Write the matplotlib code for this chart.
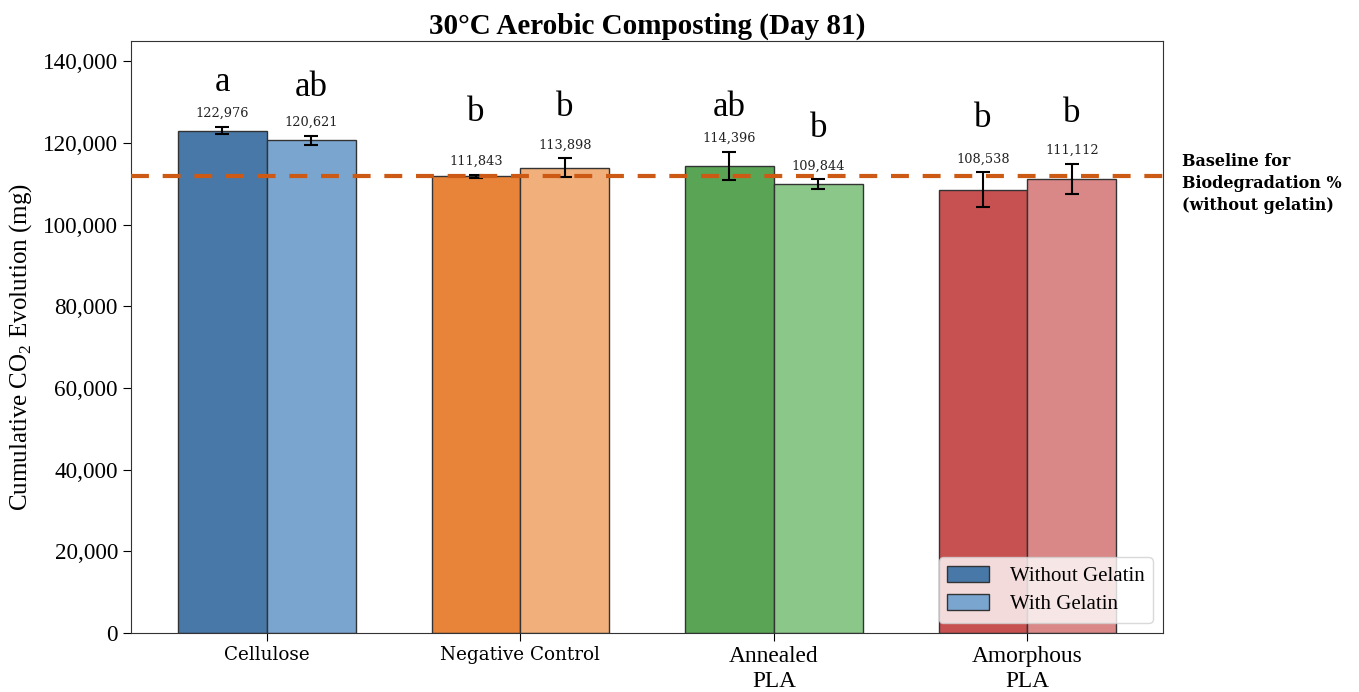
import numpy as np
import matplotlib
matplotlib.use("Agg")
import matplotlib.pyplot as plt
from matplotlib.ticker import FuncFormatter

plt.rcParams['font.family'] = ['Liberation Serif', 'DejaVu Serif']
plt.rcParams['mathtext.fontset'] = 'custom'
plt.rcParams['mathtext.rm'] = 'Liberation Serif'

# Treatments and measurements (cumulative CO2, mg)
categories = ["Cellulose", "Negative Control", "Annealed\nPLA", "Amorphous\nPLA"]
without_gelatin = [122976, 111843, 114396, 108538]
with_gelatin = [120621, 113898, 109844, 111112]
without_err = [900, 300, 3430, 4250]
with_err = [1150, 2330, 1230, 3720]
letters_without = ["a", "b", "ab", "b"]
letters_with = ["ab", "b", "b", "b"]
baseline_value = 111843

# Letter heights above each bar (data units)
letter_y_without = [132650, 125300, 126600, 123830]
letter_y_with = [131430, 126520, 121370, 125050]

colors_without = ["#4878a8", "#e8843a", "#5aa555", "#c75050"]
colors_with = ["#7aa5cf", "#f1b07b", "#8bc789", "#d98787"]

fig, ax = plt.subplots(figsize=(13.59, 6.92), dpi=100)
fig.subplots_adjust(left=0.0965, right=0.8558, top=0.941, bottom=0.085)

x = np.arange(len(categories))
w = 0.35

ax.bar(x - w / 2, without_gelatin, w, color=colors_without,
       edgecolor="#333333", linewidth=1.0, label="Without Gelatin", zorder=2)
ax.bar(x + w / 2, with_gelatin, w, color=colors_with,
       edgecolor="#333333", linewidth=1.0, label="With Gelatin", zorder=2)
ax.errorbar(x - w / 2, without_gelatin, yerr=without_err, fmt="none",
            ecolor="black", capsize=5, elinewidth=1.5, capthick=1.5, zorder=3)
ax.errorbar(x + w / 2, with_gelatin, yerr=with_err, fmt="none",
            ecolor="black", capsize=5, elinewidth=1.5, capthick=1.5, zorder=3)

ax.axhline(baseline_value, color="#cc5a14", linestyle=(0, (4.3, 3.3)), linewidth=3, zorder=4)
ax.annotate("Baseline for\nBiodegradation %\n(without gelatin)",
            (1.0, baseline_value), xycoords=ax.get_yaxis_transform(),
            xytext=(14, -5), textcoords="offset points", ha="left", va="center",
            fontsize=11.5, fontweight="bold", family="DejaVu Serif", linespacing=1.4)

for xs, vals, errs, lets, ly in [
    (x - w / 2, without_gelatin, without_err, letters_without, letter_y_without),
    (x + w / 2, with_gelatin, with_err, letters_with, letter_y_with),
]:
    for xi, v, e, l, yl in zip(xs, vals, errs, lets, ly):
        ax.annotate(f"{v:,}", (xi, v + e), xytext=(0, 5), textcoords="offset points",
                    ha="center", va="bottom", fontsize=9.3, family="DejaVu Serif",
                    color="#222222")
        ax.text(xi, yl, l, ha="center", va="baseline", fontsize=25)

ax.set_ylim(0, 145000)
ax.set_xlim(-0.535, 3.535)
ax.yaxis.set_major_formatter(FuncFormatter(lambda v, p: f"{int(v):,}"))
ax.set_xticks(x)
ax.set_xticklabels(categories)
for lab in ax.get_xticklabels():
    if "\n" not in lab.get_text():
        lab.set_family("DejaVu Serif")
        lab.set_fontsize(13.2)
    else:
        lab.set_fontsize(16.8)
ax.tick_params(axis="y", labelsize=16.7, length=6)
ax.tick_params(axis="x", length=6)
ax.set_ylabel("Cumulative CO$_2$ Evolution (mg)", fontsize=18)
ax.yaxis.set_label_coords(-0.094, 0.483)
ax.set_title("30°C Aerobic Composting (Day 81)", fontsize=21, fontweight="bold", pad=5)

for s in ax.spines.values():
    s.set_color("#333333")

leg = ax.legend(loc="lower right", fontsize=15, frameon=True, fancybox=True,
                framealpha=0.8, facecolor="white", edgecolor="#d0d0d0",
                handlelength=2.0, handleheight=0.8, borderpad=0.4,
                labelspacing=0.4, handletextpad=1.0)
leg.set_zorder(5)

fig.savefig("out.png", dpi=100)
